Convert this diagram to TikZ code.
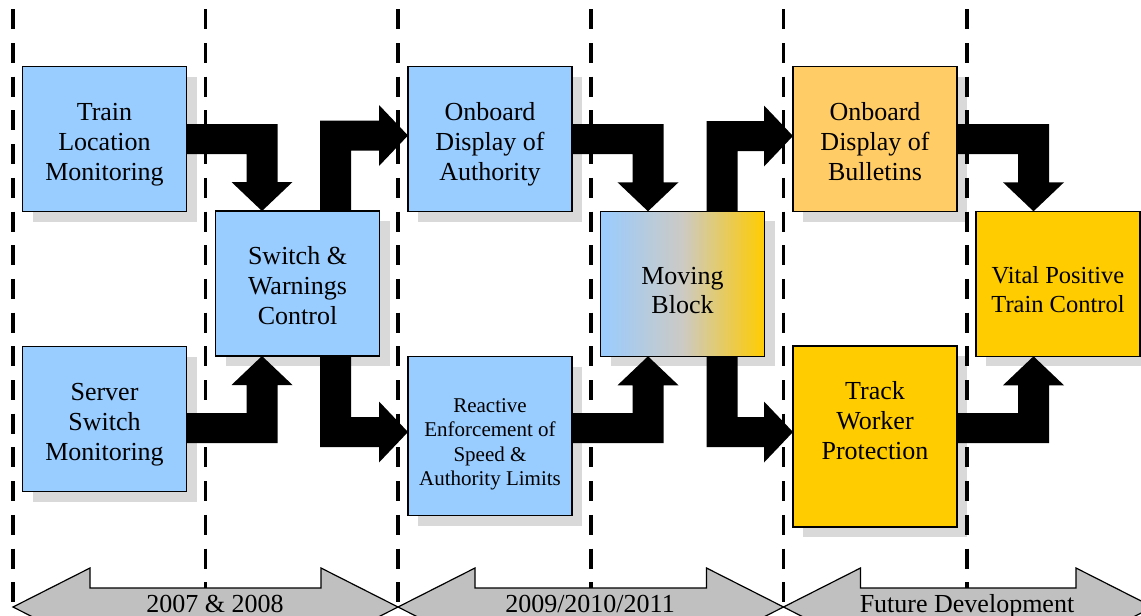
\documentclass[tikz,border=0pt]{standalone}
\usepackage{fontspec}
\setmainfont{Liberation Serif}
\usetikzlibrary{calc}

\definecolor{skyfill}{HTML}{99CCFF}
\definecolor{amberfill}{HTML}{FFCC66}
\definecolor{goldfill}{HTML}{FFCC00}
\definecolor{blendmid}{HTML}{CCCAC4}
\definecolor{dropgray}{HTML}{D9D9D9}
\definecolor{eragray}{HTML}{C0C0C0}

\pgfdeclarelayer{shadows}
\pgfdeclarelayer{guides}
\pgfsetlayers{shadows,guides,main}

% block arrow: horizontal run from #1, then a vertical run to the tip #2
% (#3 = 1: tip points down the page, -1: tip points up)
\newcommand\hvflow[3]{%
  \fill[flow] let \p1=#1, \p2=#2 in
    ({\x1},{\y1+(#3)*15pt}) -- ({\x2+15.5pt},{\y1+(#3)*15pt})
    -- ({\x2+15.5pt},{\y2+(#3)*29pt}) -- ({\x2+30.5pt},{\y2+(#3)*29pt})
    -- (\x2,\y2) -- ({\x2-30.5pt},{\y2+(#3)*29pt}) -- ({\x2-15.5pt},{\y2+(#3)*29pt})
    -- ({\x2-15.5pt},{\y1-(#3)*15pt}) -- ({\x1},{\y1-(#3)*15pt}) -- cycle;}

% block arrow: vertical run from #1, then a horizontal run right to the tip #2
% (#3 = 1: the run goes up the page, -1: it goes down)
\newcommand\vhflow[3]{%
  \fill[flow] let \p1=#1, \p2=#2 in
    ({\x1-15.5pt},{\y1}) -- ({\x1-15.5pt},{\y2+(#3)*15pt})
    -- ({\x2-29pt},{\y2+(#3)*15pt}) -- ({\x2-29pt},{\y2+(#3)*30.5pt})
    -- (\x2,\y2) -- ({\x2-29pt},{\y2-(#3)*30.5pt}) -- ({\x2-29pt},{\y2-(#3)*15pt})
    -- ({\x1+15.5pt},{\y2-(#3)*15pt}) -- ({\x1+15.5pt},{\y1}) -- cycle;}

% grey drop shadow behind a box
\newcommand\dropshadow[1]{%
  \begin{pgfonlayer}{shadows}
    \fill[dropgray] ($(#1.south west)+(10,10)$) rectangle ($(#1.north east)+(10,10)$);
  \end{pgfonlayer}}

% double-headed period band between x = #1 and x = #2
\newcommand\eraband[2]{%
  \draw[era] (#1,607) -- ++(77,-39) -- ++(0,20) -- ({#2-77},588) -- ++(0,-20)
    -- (#2,607) -- ++(-77,39) -- ++(0,-20) -- ({#1+77},626) -- ++(0,20) -- cycle;}

\begin{document}
\begin{tikzpicture}[x=1pt,y=-1pt,
  box/.style={draw=black, line width=1.1pt, minimum width=164pt, minimum height=145pt,
    inner sep=0pt, outer sep=0pt},
  lbl/.style={align=center, inner sep=0pt, font=\fontsize{26}{30}\selectfont},
  guide/.style={line width=3.8pt, dash pattern=on 20pt off 13.7pt},
  flow/.style={fill=black},
  era/.style={fill=eragray, draw=black, line width=1.2pt},
  eralbl/.style={anchor=base, inner sep=0pt, font=\fontsize{26}{30}\selectfont}]

\useasboundingbox (0,0) rectangle (1141,616);
\clip (0,0) rectangle (1141,616);

% phase dividers
\begin{pgfonlayer}{guides}
  \foreach \gx in {13,205.5,398,591,783.5,967}
    \draw[guide] (\gx,9.3) -- (\gx,616);
\end{pgfonlayer}

% stages
\node[box, fill=skyfill] (trainloc) at (104.5,139) {};
\node[box, fill=skyfill] (switch) at (297.5,283.5) {};
\node[box, fill=skyfill] (server) at (104.5,419) {};
\node[box, fill=skyfill] (authority) at (490,139) {};
\node[box, fill=skyfill, minimum height=159pt] (reactive) at (490,436) {};
\node[box, left color=skyfill, right color=goldfill, middle color=blendmid] (moving) at (682.5,283.8) {};
\node[box, fill=amberfill] (bulletins) at (875,139) {};
\node[box, fill=goldfill, minimum height=181pt] (trackworker) at (875,436.5) {};
\node[box, fill=goldfill] (vital) at (1058,283.8) {};

\foreach \b in {trainloc,switch,server,authority,reactive,moving,bulletins,trackworker,vital}
  \dropshadow{\b};

% stage titles
\node[lbl] (trainloc-t) at (104.5,145) {Train\\Location\\Monitoring};
\node[lbl] (switch-t) at (297.5,286) {Switch \&\\Warnings\\Control};
\node[lbl] (server-t) at (104.5,424.5) {Server\\Switch\\Monitoring};
\node[lbl] (authority-t) at (490,144.5) {Onboard\\Display of\\Authority};
\node[lbl, font=\fontsize{21}{24.5}\selectfont] (reactive-t) at (490,444.5)
  {Reactive\\Enforcement of\\Speed \&\\Authority Limits};
\node[lbl, font=\fontsize{26}{29}\selectfont] (moving-t) at (682.5,290.5) {Moving\\Block};
\node[lbl] (bulletins-t) at (875,142) {Onboard\\Display of\\Bulletins};
\node[lbl] (trackworker-t) at (875,420.5) {Track\\Worker\\Protection};
\node[lbl, font=\fontsize{24.5}{29}\selectfont] (vital-t) at (1058,289.8) {Vital Positive\\Train Control};

% progression arrows
\hvflow{(trainloc.east)}{($(switch.north)+(-35.5,0)$)}{1}
\vhflow{($(switch.north)+(38,0)$)}{($(authority.west)+(0,-3.5)$)}{1}
\hvflow{($(server.east)+(0,9)$)}{($(switch.south)+(-35.5,0)$)}{-1}
\vhflow{($(switch.south)+(38,0)$)}{($(reactive.west)+(0,-4)$)}{-1}
\hvflow{(authority.east)}{($(moving.north)+(-34.5,0)$)}{1}
\vhflow{($(moving.north)+(39.5,0)$)}{($(bulletins.west)+(0,-3)$)}{1}
\hvflow{($(reactive.east)+(0,-8)$)}{($(moving.south)+(-34.5,0)$)}{-1}
\vhflow{($(moving.south)+(39.5,0)$)}{($(trackworker.west)+(0,-4.5)$)}{-1}
\hvflow{(bulletins.east)}{($(vital.north)+(-24.5,0)$)}{1}
\hvflow{($(trackworker.east)+(0,-8.5)$)}{($(vital.south)+(-24.5,0)$)}{-1}

% time line
\eraband{13}{398}
\eraband{398}{783.5}
\eraband{783.5}{1153}
\node[eralbl] (era1) at (215,612.5) {2007 \& 2008};
\node[eralbl] (era2) at (590,612.5) {2009/2010/2011};
\node[eralbl] (era3) at (967,612.5) {Future Development};
\end{tikzpicture}
\end{document}
